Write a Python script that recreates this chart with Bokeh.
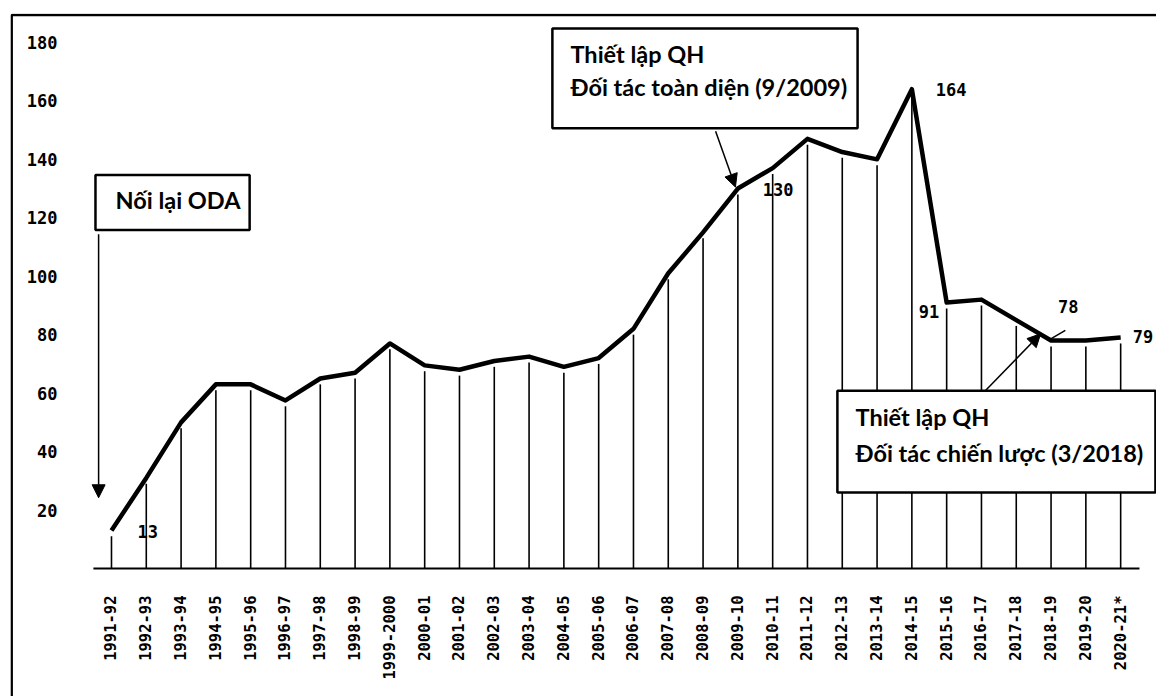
from bokeh.plotting import figure
from bokeh.models import (Range1d, FixedTicker, BoxAnnotation, Label, Arrow,
                          NormalHead, ColumnDataSource)
from bokeh.core.properties import value
from bokeh.embed import file_html
from bokeh.resources import INLINE
import math

# ---------------- data ----------------
years = ["1991-92", "1992-93", "1993-94", "1994-95", "1995-96", "1996-97",
         "1997-98", "1998-99", "1999-2000", "2000-01", "2001-02", "2002-03",
         "2003-04", "2004-05", "2005-06", "2006-07", "2007-08", "2008-09",
         "2009-10", "2010-11", "2011-12", "2012-13", "2013-14", "2014-15",
         "2015-16", "2016-17", "2017-18", "2018-19", "2019-20", "2020-21*"]
oda = [13, 31, 50, 63, 63, 57.5, 65, 67, 77, 69.5, 68, 71, 72.5, 69, 72,
       82, 101, 115, 130, 137, 147, 142.5, 140, 164, 91, 92, 85, 78, 78, 79]
y_ticks = [20, 40, 60, 80, 100, 120, 140, 160, 180]
labelled = [0, 18, 23, 24, 27, 29]
label_texts = ["13", "130", "164", "91", "78", "79"]

# label offsets in screen pixels (style, not data)
label_dx = [26, 25, 24, -28, 7, 12]
label_dy = [1, 1, 0, 9, -34, -1]

FONT_NUM = "DejaVu Sans Mono"
FONT_TXT = "Lato"
TXT_SIZE = "23.5px"

idx = list(range(len(years)))

p = figure(width=1156, height=696,
           x_range=Range1d(-2.902, 30.03), y_range=Range1d(-43.8, 189.9),
           output_backend="svg", toolbar_location=None,
           min_border_left=10, min_border_right=0,
           min_border_top=13, min_border_bottom=0)
p.outline_line_color = None
p.grid.visible = False
p.background_fill_color = "white"
p.border_fill_color = "white"

# x axis: labels placed up inside the frame under the drawn baseline
p.xaxis.ticker = FixedTicker(ticks=idx)
p.xaxis.major_label_overrides = {i: y for i, y in enumerate(years)}
p.xaxis.major_label_orientation = math.pi / 2
p.xaxis.major_tick_line_color = None
p.xaxis.minor_tick_line_color = None
p.xaxis.axis_line_color = None
p.xaxis.major_label_standoff = -107
p.xaxis.major_label_text_font = FONT_NUM
p.xaxis.major_label_text_font_style = "bold"
p.xaxis.major_label_text_font_size = "15.5px"
p.xaxis.major_label_text_color = "black"

# y axis: labels placed inside the frame
p.yaxis.ticker = FixedTicker(ticks=y_ticks)
p.yaxis.axis_line_color = None
p.yaxis.major_tick_line_color = None
p.yaxis.minor_tick_line_color = None
p.yaxis.major_label_standoff = -53
p.yaxis.major_label_text_font = FONT_NUM
p.yaxis.major_label_text_font_style = "bold"
p.yaxis.major_label_text_font_size = "17px"
p.yaxis.major_label_text_color = "black"

# outer frame (left + top border)
p.add_layout(BoxAnnotation(left=-2.868, right=45, top=189.36, bottom=-90,
                           fill_color=None, line_color="black",
                           line_alpha=1.0, line_width=2.5, level="underlay"))

# x-axis baseline
p.segment(x0=[-0.52], y0=[0], x1=[29.54], y1=[0],
          line_color="black", line_width=2)

# drop lines and main line
src = ColumnDataSource(dict(x=idx, y=oda, y_top=[v - 2 for v in oda],
                            zero=[0] * len(oda)))
p.segment(x0="x", y0="zero", x1="x", y1="y_top", source=src,
          line_color="black", line_width=1.6)
p.line(x="x", y="y", source=src, line_color="black", line_width=4.5,
       line_join="round")

# value labels
lsrc = ColumnDataSource(dict(x=labelled, y=[oda[i] for i in labelled],
                             t=label_texts, dx=label_dx, dy=label_dy))
p.text(x="x", y="y", text="t", source=lsrc, x_offset="dx", y_offset="dy",
       text_font=value(FONT_NUM), text_font_size="17px",
       text_font_style="bold", text_baseline="alphabetic",
       text_align="left", text_color="black")

# annotation boxes
def box(l, r, t, b):
    p.add_layout(BoxAnnotation(left=l, right=r, top=t, bottom=b,
                               fill_color="white", fill_alpha=1.0,
                               line_color="black", line_alpha=1.0,
                               line_width=2.5))

def txt(x, y, s):
    p.add_layout(Label(x=x, y=y, text=s, text_font=FONT_TXT,
                       text_font_style="bold", text_font_size=TXT_SIZE,
                       text_baseline="alphabetic", text_color="black"))

def arrow(x0, y0, x1, y1, head=True):
    end = NormalHead(size=13, fill_color="black", line_color="black") if head else None
    p.add_layout(Arrow(x_start=x0, y_start=y0, x_end=x1, y_end=y1,
                       line_width=1.5, line_color="black", end=end))

# box 1
box(-0.46, 3.97, 134.6, 115.8)
txt(0.115, 126.1, "Nối lại ODA")
arrow(-0.37, 114.4, -0.37, 24.2)

# box 2
box(12.67, 21.44, 184.8, 150.6)
txt(13.19, 175.9, "Thiết lập QH")
txt(13.19, 164.6, "Đối tác toàn diện (9/2009)")
arrow(17.36, 149.6, 17.93, 130.5)

# box 3
box(20.86, 30.0, 60.8, 26.0)
txt(21.38, 51.9, "Thiết lập QH")
txt(21.38, 39.5, "Đối tác chiến lược (3/2018)")
arrow(25.11, 60.8, 26.70, 80.3)
# small leader near "78"
arrow(26.98, 78.5, 27.41, 81.5, head=False)

open("out.html", "w").write(file_html(p, INLINE))
